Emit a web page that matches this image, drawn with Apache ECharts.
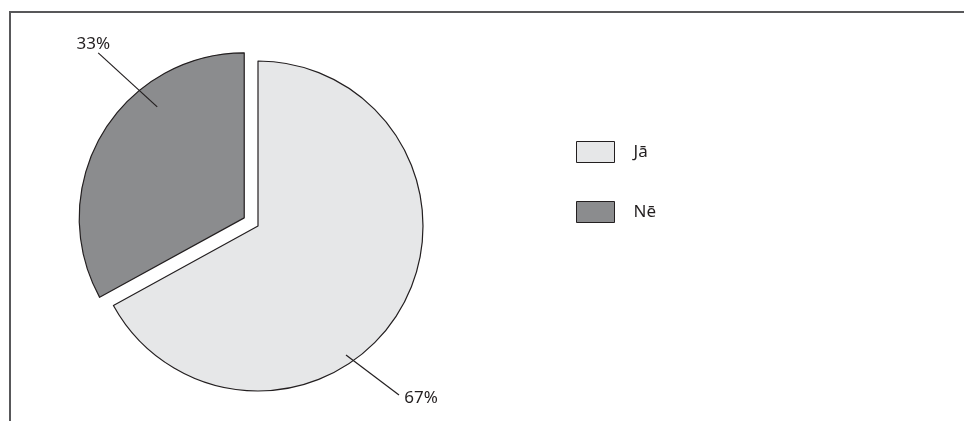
<!DOCTYPE html>
<html>
<head>
<meta charset="utf-8">
<script src="https://cdn.jsdelivr.net/npm/echarts@6/dist/echarts.min.js"></script>
<style>
  html, body { margin: 0; padding: 0; background: #fff; }
  .frame {
    position: absolute; left: 9px; top: 11px; right: -5px; bottom: -5px;
    border-left: 2px solid #58585a; border-top: 2px solid #58585a;
  }
  #pie-chart { position: absolute; left: 0; top: 0; width: 964px; height: 421px; }
</style>
</head>
<body>
<div class="frame"></div>
<div id="pie-chart"></div>
<script>
// data
const categories = ['Jā', 'Nē']
const values = [67, 33]
const sliceColors = ['#e6e7e8', '#8b8c8e']
const explodedSlices = [false, true]

// pie geometry (px)
const pieCenter = [258, 226]
const pieRadius = 165
const explode = 16

// leader line per slice: start/end relative to the slice centre, label anchor
const leaders = [
  { start: [88, 129], end: [141, 169], text: [163, 172] },
  { start: [-87, -111], end: [-146, -165], text: [-151, -174] }
]

const total = values.reduce((a, b) => a + b, 0)

function sliceCenter(i) {
  if (!explodedSlices[i]) return pieCenter
  // mid angle of slice, clockwise from 12 o'clock
  let before = 0
  for (let k = 0; k < i; k++) before += values[k]
  const mid = (before + values[i] / 2) / total * Math.PI * 2
  return [pieCenter[0] + explode * Math.sin(mid), pieCenter[1] - explode * Math.cos(mid)]
}

// one pie per slice, the other slices kept as empty gaps so angles stay right
function sliceSeries(i) {
  return {
    type: 'pie',
    center: sliceCenter(i),
    radius: pieRadius,
    startAngle: 90,
    clockwise: true,
    silent: true,
    label: { show: false },
    labelLine: { show: false },
    data: categories.map((name, k) => k === i ? {
      name: name,
      value: values[k],
      itemStyle: { color: sliceColors[k], borderColor: '#231f20', borderWidth: 1.2 }
    } : {
      name: '_gap' + k,
      value: values[k],
      itemStyle: { color: 'rgba(0,0,0,0)', borderWidth: 0 }
    })
  }
}

const chart = echarts.init(document.getElementById('pie-chart'))

const options = {
  animation: false,
  textStyle: { fontFamily: 'Noto Sans', color: '#231f20' },
  legend: {
    orient: 'vertical',
    left: 576,
    top: 141,
    padding: 0,
    itemWidth: 38,
    itemHeight: 21,
    itemGap: 38,
    icon: 'rect',
    selectedMode: false,
    itemStyle: { borderColor: '#231f20', borderWidth: 1 },
    textStyle: { fontSize: 17, color: '#231f20', padding: [0, 0, 0, 14] },
    data: categories
  },
  series: categories.map((c, i) => sliceSeries(i)).concat([{
    // labels and leader lines on top
    type: 'pie',
    z: 10,
    center: pieCenter,
    radius: pieRadius,
    startAngle: 90,
    clockwise: true,
    silent: true,
    avoidLabelOverlap: false,
    itemStyle: { color: 'rgba(0,0,0,0)', borderWidth: 0 },
    label: {
      show: true,
      position: 'outside',
      formatter: '{d}%',
      fontSize: 17,
      color: '#231f20'
    },
    labelLine: {
      show: true,
      length: 20,
      length2: 10,
      lineStyle: { color: '#231f20', width: 1.2 }
    },
    labelLayout: function (params) {
      const i = params.dataIndex
      const c = sliceCenter(i)
      const l = leaders[i]
      return {
        x: c[0] + l.text[0],
        y: c[1] + l.text[1],
        align: 'center',
        verticalAlign: 'middle',
        labelLinePoints: [
          [c[0] + l.start[0], c[1] + l.start[1]],
          [c[0] + l.end[0], c[1] + l.end[1]]
        ]
      }
    },
    data: categories.map((name, i) => ({ name: name + ' ', value: values[i] }))
  }])
}

chart.setOption(options)
</script>
</body>
</html>
